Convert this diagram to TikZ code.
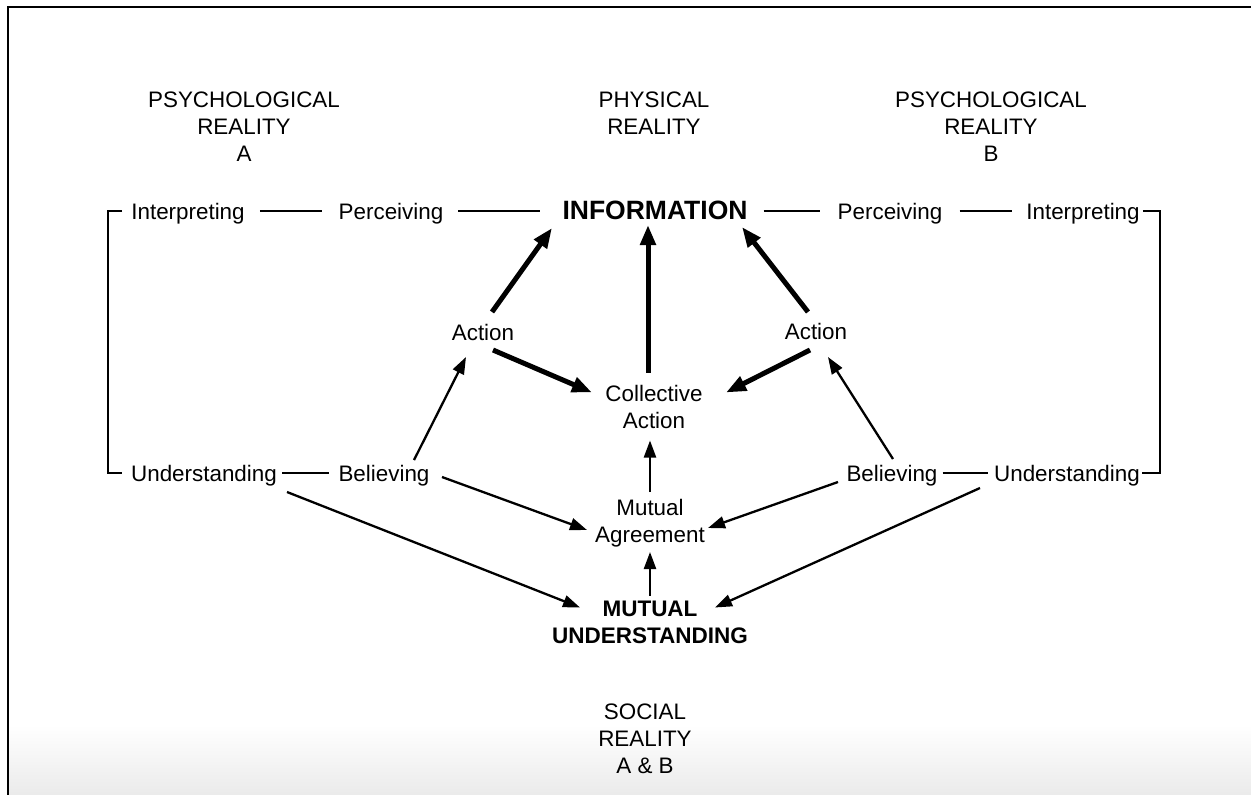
\documentclass[tikz,border=0pt]{standalone}
\usepackage{fontspec}
\setmainfont{Liberation Sans}
\usetikzlibrary{calc,arrows.meta}
\begin{document}
\begin{tikzpicture}[x=1pt,y=-1pt,
  lbl/.style={inner sep=0pt, font=\fontsize{22.4}{27}\selectfont, align=center},
  one/.style={lbl, text height=16pt, text depth=0pt},
  bld/.style={lbl, font=\fontsize{22.5}{27}\selectfont\bfseries},
  conn/.style={line width=2.2pt},
  thinarr/.style={line width=2.3pt, -{Triangle[length=17pt,width=12pt]}},
  thickarr/.style={line width=5pt, -{Triangle[length=20pt,width=15pt]}},
]
\useasboundingbox (0,0) rectangle (1251,795);
\shade[top color=white, bottom color=black!8] (8,725) rectangle (1251,795);
\draw[line width=2.5pt] (8,795) -- (8,7) -- (1251,7);

% headings
\node[lbl] (psyA) at (244,127) {PSYCHOLOGICAL\\REALITY\\A};
\node[lbl] (phys) at (654,113.5) {PHYSICAL\\REALITY};
\node[lbl] (psyB) at (991,127) {PSYCHOLOGICAL\\REALITY\\B};
\node[lbl] (soc) at (645,739) {SOCIAL\\REALITY\\A \& B};

% top row
\node[one] (intL) at (188,211) {Interpreting};
\node[one] (percL) at (391,211) {Perceiving};
\node[one, font=\fontsize{26.5}{30}\selectfont\bfseries] (info) at (655,211) {INFORMATION};
\node[one] (percR) at (890,211) {Perceiving};
\node[one] (intR) at (1083,211) {Interpreting};

% middle
\node[one] (actL) at (483,332) {Action};
\node[one] (actR) at (816,331) {Action};
\node[lbl] (coll) at (654,406.5) {Collective\\Action};

% lower row
\node[one] (undL) at (204,473) {Understanding};
\node[one] (belL) at (384,473) {Believing};
\node[one] (belR) at (892,473) {Believing};
\node[one] (undR) at (1067,473) {Understanding};
\node[lbl] (ma) at (650,523) {Mutual\\Agreement};
\node[bld] (mu) at (650,622.5) {MUTUAL\\UNDERSTANDING};

% horizontal connectors
\draw[conn] ($(intL.east)+(15,0)$) -- ($(percL.west)+(-17,0)$);
\draw[conn] ($(percL.east)+(15,0)$) -- ($(info.west)+(-22,0)$);
\draw[conn] ($(info.east)+(16,0)$) -- ($(percR.west)+(-18,0)$);
\draw[conn] ($(percR.east)+(17,0)$) -- ($(intR.west)+(-14,0)$);
\draw[conn] ($(undL.east)+(5,0)$) -- ($(belL.west)+(-9,0)$);
\draw[conn] ($(belR.east)+(5,0)$) -- ($(undR.west)+(-6,0)$);

% brackets
\draw[conn] ($(intL.west)+(-9,0)$) -- ++(-14,0) |- ($(undL.west)+(-9,0)$);
\draw[conn] ($(intR.east)+(3,0)$) -- ++(17,0) |- ($(undR.east)+(2,0)$);

% thick arrows
\draw[thickarr] ($(actL)+(9,-20)$) -- ($(info)+(-103,17)$);
\draw[thickarr] ($(coll)+(-6,-34)$) -- ($(info)+(-7,14)$);
\draw[thickarr] ($(actR)+(-8,-19)$) -- ($(info)+(87,16)$);
\draw[thickarr] ($(actL)+(10,18)$) -- ($(coll)+(-62,-14)$);
\draw[thickarr] ($(actR)+(-6,19)$) -- ($(coll)+(72,-14)$);

% thin arrows
\draw[thinarr] ($(belL)+(30,-13)$) -- ($(actL)+(-17,25)$);
\draw[thinarr] ($(belR)+(1,-14)$) -- ($(actR)+(12,26)$);
\draw[thinarr] ($(belL)+(58,4)$) -- ($(ma)+(-63,7)$);
\draw[thinarr] ($(belR)+(-54,9)$) -- ($(ma)+(58,5)$);
\draw[thinarr] ($(undL)+(83,19)$) -- ($(mu)+(-70,-15)$);
\draw[thinarr] ($(undR)+(-87,15)$) -- ($(mu)+(65,-15)$);
\draw[thinarr] ($(ma)+(0,-31)$) -- ($(coll)+(-4,34)$);
\draw[thinarr] ($(mu)+(0,-27)$) -- ($(ma)+(0,29)$);
\end{tikzpicture}
\end{document}
